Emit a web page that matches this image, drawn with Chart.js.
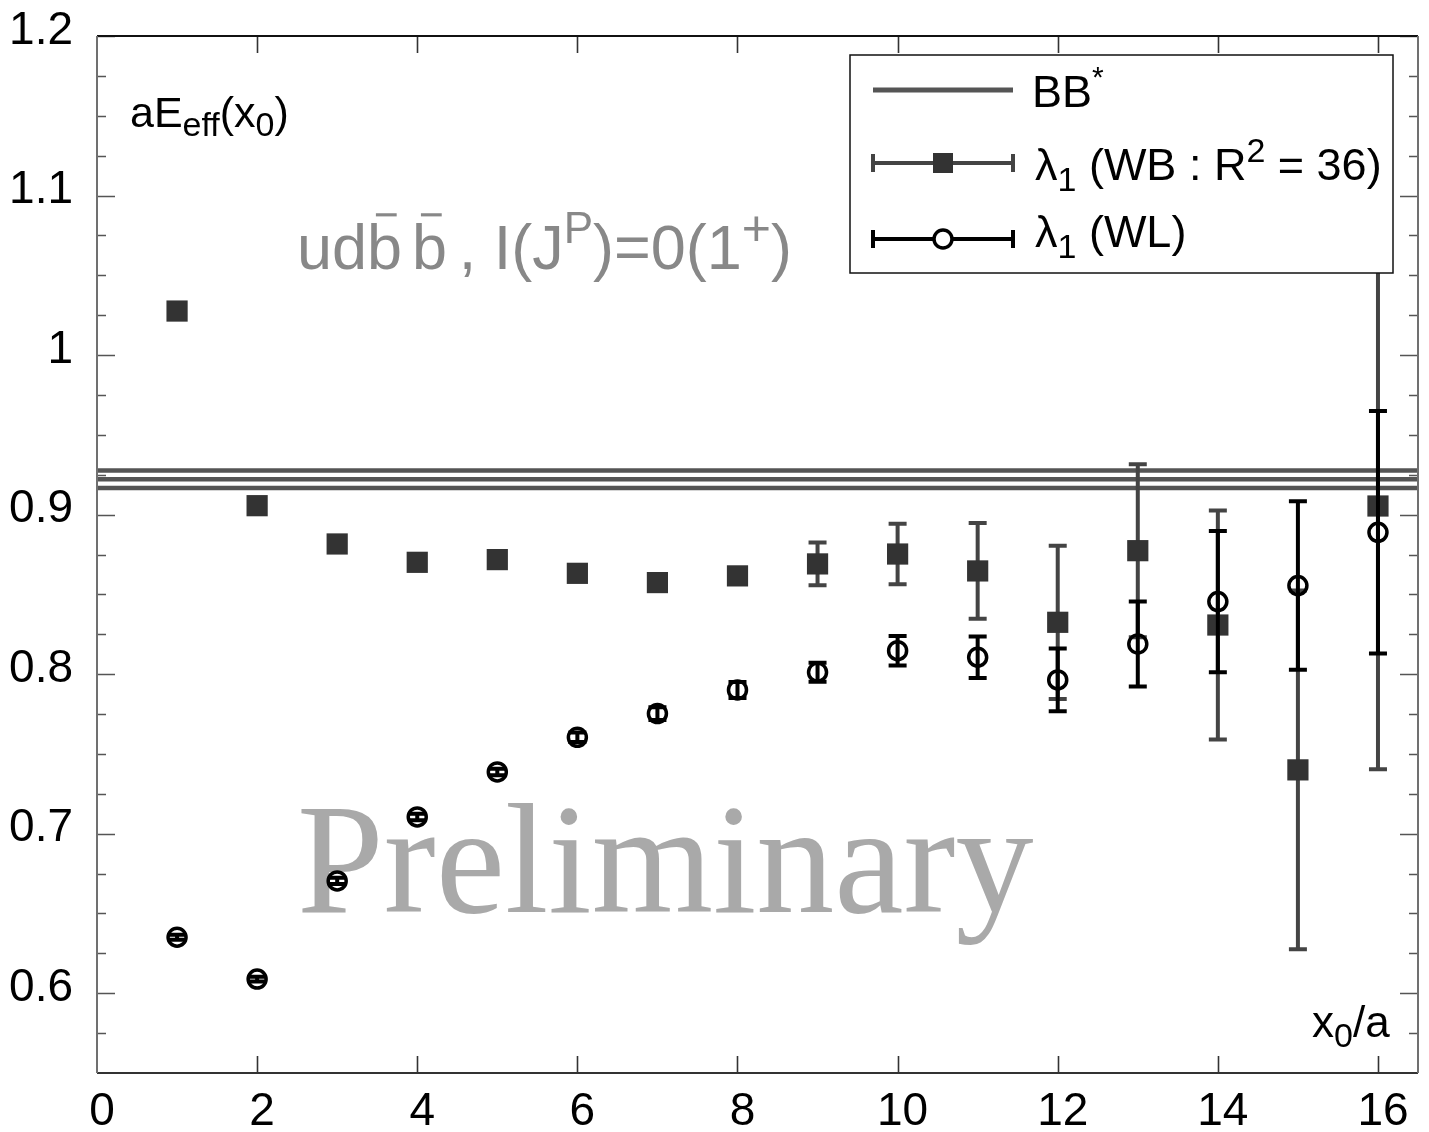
<!DOCTYPE html>
<html>
<head>
<meta charset="utf-8">
<title>Effective energy</title>
<script src="https://cdn.jsdelivr.net/npm/chart.js@4.4.0/dist/chart.umd.min.js"></script>
<style>
  html, body { margin: 0; padding: 0; background: #fff; }
  #wrap { width: 1429px; height: 1132px; }
</style>
</head>
<body>
<div id="wrap"><canvas id="effChart" width="1429" height="1132"></canvas></div>
<script>
'use strict';

// time slices x0/a
const timeSlices = [1, 2, 3, 4, 5, 6, 7, 8, 9, 10, 11, 12, 13, 14, 15, 16];
// lambda_1 from the WB correlator (R^2 = 36)
const wbValues = [1.0276, 0.9056, 0.8816, 0.8701, 0.8718, 0.8632, 0.8574, 0.8616,
                  0.8691, 0.8753, 0.8647, 0.8325, 0.8774, 0.8308, 0.7400, 0.9054];
const wbErrors = [0.001, 0.001, 0.001, 0.001, 0.001, 0.001, 0.003, 0.003,
                  0.0134, 0.019, 0.030, 0.048, 0.0542, 0.0718, 0.1124, 0.165];
// lambda_1 from the WL correlator
const wlValues = [0.6351, 0.6089, 0.6704, 0.7105, 0.7387, 0.7604, 0.7753, 0.7901,
                  0.8012, 0.8147, 0.8106, 0.7964, 0.8189, 0.8455, 0.8555, 0.8889];
const wlErrors = [0.0015, 0.0015, 0.002, 0.002, 0.002, 0.003, 0.004, 0.005,
                  0.006, 0.0092, 0.013, 0.0197, 0.0267, 0.0443, 0.0528, 0.076];
// BB* threshold and its error band
const bbStar = 0.9222;
const bbStarErr = 0.0055;

const xTicks = [0, 2, 4, 6, 8, 10, 12, 14, 16];
const yTicks = [0.6, 0.7, 0.8, 0.9, 1.0, 1.1, 1.2];

const X_MIN = 0, X_MAX = 16.5, Y_MIN = 0.55, Y_MAX = 1.2;
const SANS = "'Liberation Sans', Arial, Helvetica, sans-serif";
const SERIF = "'Liberation Serif', 'Times New Roman', serif";

// draws a run of text pieces (sub/superscripts, overbars) left to right
function richText(ctx, x, y, parts, color) {
  let cx = x;
  ctx.textBaseline = 'alphabetic';
  ctx.textAlign = 'left';
  for (const p of parts) {
    ctx.font = p.size + 'px ' + (p.family || SANS);
    ctx.fillStyle = color;
    ctx.fillText(p.t, cx, y + (p.dy || 0));
    const w = ctx.measureText(p.t).width;
    if (p.bar) {
      ctx.strokeStyle = color;
      ctx.lineWidth = p.size * 0.05;
      ctx.beginPath();
      ctx.moveTo(cx + p.size * 0.14, y - p.size * 0.86);
      ctx.lineTo(cx + p.size * 0.47, y - p.size * 0.86);
      ctx.stroke();
    }
    cx += w + (p.gap || 0);
  }
  return cx;
}

function bandLine(v) {
  return [{x: X_MIN, y: v}, {x: X_MAX, y: v}];
}

const errorBars = {
  id: 'errorBars',
  beforeDatasetDraw(chart, args) {
    const ds = chart.data.datasets[args.index];
    if (!ds.errors) return;
    const {ctx, scales: {x, y}} = chart;
    ctx.save();
    ctx.strokeStyle = ds.errorColor;
    ctx.lineWidth = 4;
    ds.data.forEach((p, i) => {
      const px = x.getPixelForValue(p.x);
      const top = y.getPixelForValue(p.y + ds.errors[i]);
      const bot = y.getPixelForValue(p.y - ds.errors[i]);
      ctx.beginPath();
      ctx.moveTo(px, top); ctx.lineTo(px, bot);
      ctx.moveTo(px - 9, top); ctx.lineTo(px + 9, top);
      ctx.moveTo(px - 9, bot); ctx.lineTo(px + 9, bot);
      ctx.stroke();
    });
    ctx.restore();
  }
};

// text placed inside the plot, behind the data
const annotations = {
  id: 'annotations',
  beforeDatasetsDraw(chart) {
    const ctx = chart.ctx;
    const area = chart.chartArea;
    ctx.save();
    richText(ctx, 297, 912, [{t: 'Preliminary', size: 156, family: SERIF}], '#a9a9a9');
    richText(ctx, 297, 269, [
      {t: 'ud', size: 63},
      {t: 'b', size: 63, bar: true, gap: 10},
      {t: 'b', size: 63, bar: true, gap: -6},
      {t: ' , I(J', size: 63},
      {t: 'P', size: 44, dy: -26},
      {t: ')=0(1', size: 63, gap: 0},
      {t: '+', size: 50, dy: -24},
      {t: ')', size: 63}
    ], '#888888');
    richText(ctx, area.left + 33, 127, [
      {t: 'aE', size: 43},
      {t: 'eff', size: 34, dy: 9},
      {t: '(x', size: 43},
      {t: '0', size: 34, dy: 9},
      {t: ')', size: 43}
    ], '#000');
    richText(ctx, 1312, 1037, [
      {t: 'x', size: 44},
      {t: '0', size: 34, dy: 10},
      {t: '/a', size: 44}
    ], '#000');
    ctx.restore();
  }
};

// frame with inward tick marks on all four sides
const frame = {
  id: 'frame',
  afterDraw(chart) {
    const {ctx, chartArea: a, scales: {x, y}} = chart;
    ctx.save();
    ctx.lineWidth = 1.6;
    ctx.strokeStyle = '#555';
    for (let k = 1; k <= 26; k++) {
      const v = Y_MIN + k * 0.025;
      const py = Math.round(y.getPixelForValue(v)) + 0.5;
      const len = (k % 4 === 2) ? 18 : 9;
      ctx.beginPath();
      ctx.moveTo(a.left, py); ctx.lineTo(a.left + len, py);
      ctx.moveTo(a.right, py); ctx.lineTo(a.right - len, py);
      ctx.stroke();
    }
    ctx.strokeStyle = '#333';
    xTicks.forEach(v => {
      if (v === X_MIN) return;
      const px = Math.round(x.getPixelForValue(v)) + 0.5;
      ctx.beginPath();
      ctx.moveTo(px, a.bottom); ctx.lineTo(px, a.bottom - 17);
      ctx.moveTo(px, a.top); ctx.lineTo(px, a.top + 17);
      ctx.stroke();
    });
    ctx.lineWidth = 2;
    ctx.strokeStyle = '#111';
    ctx.beginPath(); ctx.moveTo(a.left, a.top); ctx.lineTo(a.right, a.top); ctx.stroke();
    ctx.strokeStyle = '#333';
    ctx.beginPath(); ctx.moveTo(a.left, a.bottom); ctx.lineTo(a.right, a.bottom); ctx.stroke();
    ctx.strokeStyle = '#707070';
    ctx.beginPath(); ctx.moveTo(a.left, a.top); ctx.lineTo(a.left, a.bottom); ctx.stroke();
    ctx.beginPath(); ctx.moveTo(a.right, a.top); ctx.lineTo(a.right, a.bottom); ctx.stroke();
    ctx.restore();
  }
};

// boxed legend in the upper right
const boxLegend = {
  id: 'boxLegend',
  afterDraw(chart) {
    const ctx = chart.ctx;
    const bx = 850, by = 55, bw = 543, bh = 218;
    const x1 = 873, x2 = 1013, mid = 943;
    ctx.save();
    ctx.fillStyle = '#fff';
    ctx.fillRect(bx, by, bw, bh);
    ctx.strokeStyle = '#111';
    ctx.lineWidth = 1.5;
    ctx.strokeRect(bx, by, bw, bh);

    // BB* line
    ctx.strokeStyle = '#555';
    ctx.lineWidth = 5;
    ctx.beginPath(); ctx.moveTo(x1, 90); ctx.lineTo(x2, 90); ctx.stroke();
    richText(ctx, 1032, 107, [{t: 'BB', size: 45}, {t: '*', size: 30, dy: -20}], '#000');

    // error bar swatches
    const swatch = (yy, color) => {
      ctx.strokeStyle = color;
      ctx.lineWidth = 4;
      ctx.beginPath();
      ctx.moveTo(x1, yy); ctx.lineTo(x2, yy);
      ctx.moveTo(x1, yy - 9); ctx.lineTo(x1, yy + 9);
      ctx.moveTo(x2, yy - 9); ctx.lineTo(x2, yy + 9);
      ctx.stroke();
    };
    swatch(163, '#444');
    ctx.fillStyle = '#333';
    ctx.fillRect(mid - 10, 163 - 10, 20, 20);
    richText(ctx, 1035, 180, [
      {t: '\u03bb', size: 45},
      {t: '1', size: 34, dy: 11},
      {t: ' (WB : R', size: 45},
      {t: '2', size: 34, dy: -18},
      {t: ' = 36)', size: 45}
    ], '#000');

    swatch(239, '#000');
    ctx.fillStyle = '#fff';
    ctx.lineWidth = 3.5;
    ctx.beginPath(); ctx.arc(mid, 239, 9, 0, Math.PI * 2); ctx.fill(); ctx.stroke();
    richText(ctx, 1035, 247, [
      {t: '\u03bb', size: 45},
      {t: '1', size: 34, dy: 11},
      {t: ' (WL)', size: 45}
    ], '#000');
    ctx.restore();
  }
};

const ctx = document.getElementById('effChart').getContext('2d');
const bandStyle = {
  showLine: true, borderColor: '#555', borderWidth: 4.5,
  pointRadius: 0, pointHoverRadius: 0, order: 2
};

new Chart(ctx, {
  type: 'scatter',
  data: {
    datasets: [
      {
        label: '\u03bb1 (WL)',
        data: timeSlices.map((t, i) => ({x: t, y: wlValues[i]})),
        pointStyle: 'circle',
        pointRadius: 9,
        pointBorderWidth: 3.5,
        borderColor: '#000',
        backgroundColor: 'rgba(0,0,0,0)',
        errors: wlErrors,
        errorColor: '#000',
        order: 0
      },
      {
        label: '\u03bb1 (WB : R\u00b2 = 36)',
        data: timeSlices.map((t, i) => ({x: t, y: wbValues[i]})),
        pointStyle: 'rect',
        pointRadius: 15,
        pointBorderWidth: 0,
        borderColor: '#333',
        backgroundColor: '#333',
        errors: wbErrors,
        errorColor: '#444',
        order: 1
      },
      Object.assign({label: 'BB*', data: bandLine(bbStar)}, bandStyle),
      Object.assign({label: 'BB* +', data: bandLine(bbStar + bbStarErr)}, bandStyle),
      Object.assign({label: 'BB* -', data: bandLine(bbStar - bbStarErr)}, bandStyle)
    ]
  },
  options: {
    responsive: false,
    animation: false,
    devicePixelRatio: 1,
    layout: { autoPadding: false, padding: { top: 36, right: 11, left: 0, bottom: 0 } },
    plugins: {
      legend: { display: false },
      tooltip: { enabled: false }
    },
    scales: {
      x: {
        type: 'linear',
        min: X_MIN,
        max: X_MAX,
        grid: { display: false, drawTicks: false },
        border: { display: false },
        afterBuildTicks: s => { s.ticks = xTicks.map(v => ({value: v})); },
        afterFit: s => { s.height = 59; s.paddingLeft = 0; s.paddingRight = 0; },
        ticks: {
          color: '#000',
          padding: 12,
          labelOffset: 5,
          maxRotation: 0,
          font: { family: SANS, size: 46 },
          callback: v => String(v)
        }
      },
      y: {
        type: 'linear',
        min: Y_MIN,
        max: Y_MAX,
        grid: { display: false, drawTicks: false },
        border: { display: false },
        afterBuildTicks: s => { s.ticks = yTicks.map(v => ({value: v})); },
        afterFit: s => { s.width = 97; s.paddingTop = 0; s.paddingBottom = 0; },
        ticks: {
          color: '#000',
          padding: 24,
          labelOffset: -5,
          font: { family: SANS, size: 46 },
          callback: v => String(Math.round(v * 10) / 10)
        }
      }
    }
  },
  plugins: [errorBars, annotations, frame, boxLegend]
});
</script>
</body>
</html>
